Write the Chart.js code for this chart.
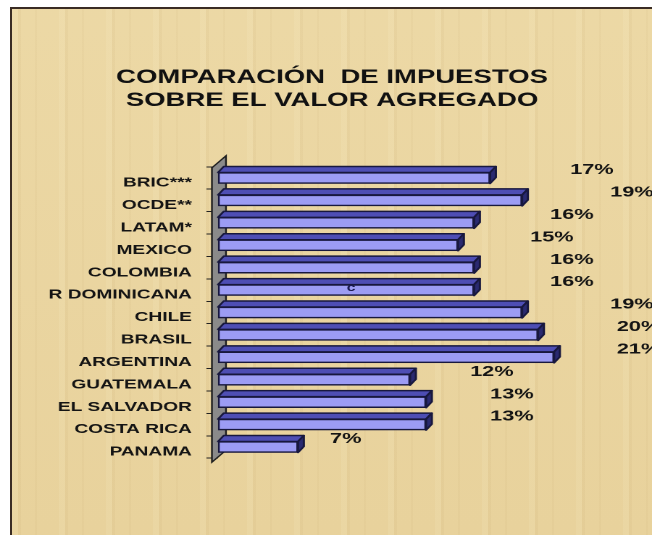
<!DOCTYPE html>
<html><head><meta charset="utf-8">
<script src="https://cdn.jsdelivr.net/npm/chart.js@4.4.1/dist/chart.umd.min.js"></script>
<style>
html,body{margin:0;padding:0;background:#fff;}
#wrap{position:relative;width:652px;height:535px;overflow:hidden;background:#fff;}
#paper{position:absolute;left:10px;top:7px;right:0;bottom:0;background-color:#ead5a0;
  border-left:2px solid #3a2c24;border-top:2px solid #3a2c24;
  background-image:
  repeating-linear-gradient(90deg,rgba(255,250,220,0.10) 0 6px,rgba(150,110,50,0.05) 6px 9px,rgba(255,255,255,0) 9px 23px,rgba(150,110,50,0.04) 23px 25px,rgba(255,255,255,0) 25px 47px),
  linear-gradient(180deg,rgba(255,245,210,0.10),rgba(200,160,90,0.06));}
#c{position:absolute;left:0;top:0;width:450px;height:535px;transform:scaleX(1.448889);transform-origin:0 0;}
</style></head>
<body><div id="wrap"><div id="paper"></div><canvas id="c" width="450" height="535"></canvas></div>
<script>
const titleLines = ['COMPARACIÓN  DE IMPUESTOS', 'SOBRE EL VALOR AGREGADO'];
const categories = ['BRIC***','OCDE**','LATAM*','MEXICO','COLOMBIA','R DOMINICANA','CHILE','BRASIL','ARGENTINA','GUATEMALA','EL SALVADOR','COSTA RICA','PANAMA'];
const values = [17, 19, 16, 15, 16, 16, 19, 20, 21, 12, 13, 13, 5];
const valueLabels = ['17%','19%','16%','15%','16%','16%','19%','20%','21%','12%','13%','13%','7%'];
const strayText = 'c';

const FONT = "'Liberation Sans', Arial, sans-serif";
const DX = 4, DY = 6;

const bar3d = {
  id: 'bar3d',
  beforeDatasetsDraw(chart) {
    const {ctx, chartArea: a} = chart;
    ctx.save();
    ctx.beginPath();
    ctx.moveTo(a.left - 4.2, a.bottom + 4);
    ctx.lineTo(a.left - 4.2, a.top + 1);
    ctx.lineTo(a.left + 5.5, a.top - 11);
    ctx.lineTo(a.left + 5.5, a.bottom - 8);
    ctx.closePath();
    ctx.fillStyle = '#8a8a8a';
    ctx.fill();
    ctx.strokeStyle = '#1e1e1e';
    ctx.lineWidth = 1.2;
    ctx.stroke();
    ctx.restore();
  },
  afterDatasetsDraw(chart) {
    const {ctx, chartArea: a} = chart;
    const meta = chart.getDatasetMeta(0);
    ctx.save();
    ctx.lineWidth = 1.5;
    ctx.lineJoin = 'round';
    ctx.strokeStyle = '#18183e';
    meta.data.forEach((el, i) => {
      const p = el.getProps(['x', 'y', 'base', 'height'], true);
      const top = p.y - p.height / 2, bot = p.y + p.height / 2;
      ctx.beginPath();
      ctx.moveTo(p.base, top);
      ctx.lineTo(p.base + DX, top - DY);
      ctx.lineTo(p.x + DX, top - DY);
      ctx.lineTo(p.x, top);
      ctx.closePath();
      ctx.fillStyle = '#4e4eb4';
      ctx.fill(); ctx.stroke();
      ctx.beginPath();
      ctx.moveTo(p.x, top);
      ctx.lineTo(p.x + DX, top - DY);
      ctx.lineTo(p.x + DX, bot - DY);
      ctx.lineTo(p.x, bot);
      ctx.closePath();
      ctx.fillStyle = '#2a2a70';
      ctx.fill(); ctx.stroke();
    });
    // value labels
    ctx.fillStyle = '#141414';
    ctx.font = 'bold 15px ' + FONT;
    ctx.textAlign = 'left';
    ctx.textBaseline = 'middle';
    meta.data.forEach((el, i) => {
      const p = el.getProps(['x', 'y', 'base'], true);
      let lx = p.base + (p.x - p.base) * 1.25 + 8.3;
      lx = Math.min(lx, a.right - 23);
      ctx.fillText(valueLabels[i], lx, p.y - 8);
    });
    // stray character inside the R DOMINICANA bar
    const k = categories.indexOf('R DOMINICANA');
    if (k >= 0) {
      const p = meta.data[k].getProps(['x', 'y', 'base'], true);
      ctx.fillStyle = '#1a1a50';
      ctx.font = 'bold 11px ' + FONT;
      ctx.textAlign = 'center';
      ctx.fillText(strayText, p.base + (p.x - p.base) * 0.52, p.y - 2);
    }
    ctx.restore();
  }
};

new Chart(document.getElementById('c'), {
  type: 'bar',
  data: {
    labels: categories,
    datasets: [{
      data: values,
      backgroundColor: '#9c9cf4',
      borderColor: '#18183e',
      borderWidth: 1.5,
      borderSkipped: false,
      barThickness: 11
    }]
  },
  options: {
    indexAxis: 'y',
    responsive: false,
    animation: false,
    devicePixelRatio: 2,
    layout: {padding: {left: 9.6, right: 1.3, top: 0, bottom: 76.8}},
    plugins: {
      legend: {display: false},
      tooltip: {enabled: false},
      title: {
        display: true,
        text: titleLines,
        color: '#111',
        font: {family: FONT, size: 19, weight: 'bold', lineHeight: 1.2105},
        padding: {top: 66.5, bottom: 54.3}
      }
    },
    scales: {
      x: {display: false, min: 0, max: 27},
      y: {
        afterFit(scale) { scale.width = 140.86; },
        grid: {drawOnChartArea: false, drawTicks: true, tickLength: 8, color: '#222', offset: true},
        border: {display: false},
        ticks: {
          color: '#141414',
          padding: 10,
          labelOffset: 5,
          font: {family: FONT, size: 13.2, weight: 'bold'}
        }
      }
    }
  },
  plugins: [bar3d]
});
</script>
</body></html>
